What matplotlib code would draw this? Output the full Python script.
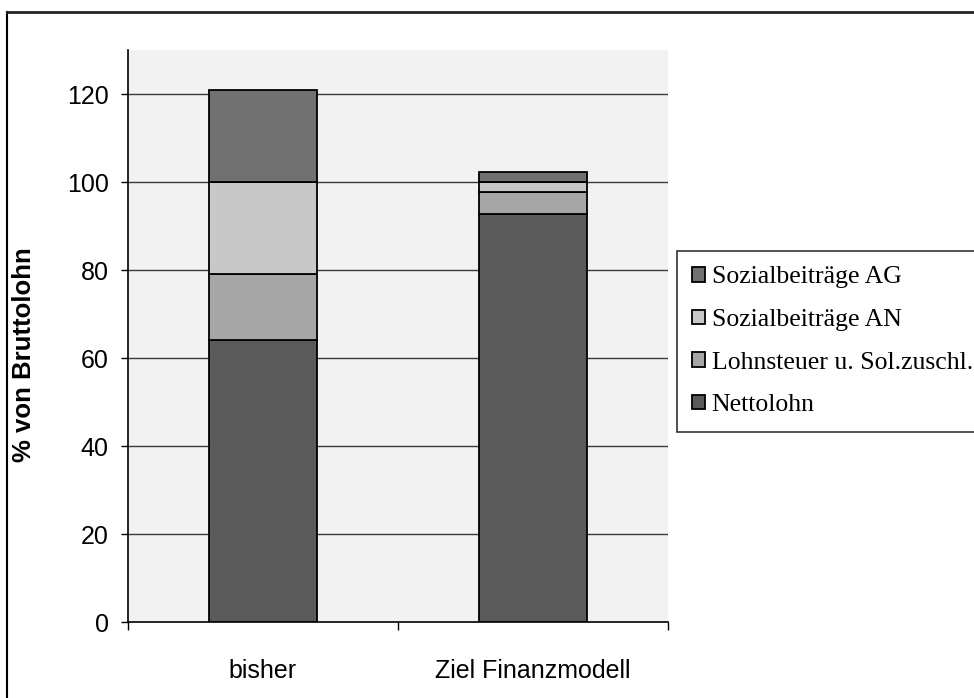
import matplotlib
matplotlib.use("Agg")
import matplotlib.pyplot as plt
from matplotlib.lines import Line2D
import numpy as np

categories = ["bisher", "Ziel Finanzmodell"]
series_names = ["Nettolohn", "Lohnsteuer u. Sol.zuschl.", "Sozialbeiträge AN", "Sozialbeiträge AG"]
nettolohn = [64.0, 92.8]
lohnsteuer = [15.0, 4.9]
sozial_an = [21.0, 2.3]
sozial_ag = [21.0, 2.2]
y_ticks = [0, 20, 40, 60, 80, 100, 120]
y_label = "% von Bruttolohn"

colors = ["#5a5a5a", "#a6a6a6", "#c8c8c8", "#717171"]
sans = "Liberation Sans"

W, H = 974, 698
fig = plt.figure(figsize=(W / 100, H / 100), dpi=100)
fig.patch.set_facecolor("white")

left, right, top, bottom = 128, 668, 50, 622
ax = fig.add_axes([left / W, 1 - bottom / H, (right - left) / W, (bottom - top) / H])
ax.set_facecolor("#f2f2f2")

x = np.arange(len(categories))
vals = [nettolohn, lohnsteuer, sozial_an, sozial_ag]
base = np.zeros(len(categories))
handles = []
for name, v, c in zip(series_names, vals, colors):
    b = ax.bar(x, v, width=0.4, bottom=base, color=c, edgecolor="black",
               linewidth=1.3, label=name, zorder=3)
    handles.append(b)
    base = base + np.array(v)

ax.set_xlim(-0.5, 1.5)
ax.set_ylim(0, 130)
ax.set_yticks(y_ticks)
ax.set_yticklabels([str(t) for t in y_ticks], fontsize=18, family=sans)
for t in y_ticks[1:]:
    ax.axhline(t, color="#3a3a3a", linewidth=1.0, zorder=1)

ax.set_xticks([-0.5, 0.5, 1.5])
ax.set_xticklabels([])
ax.set_xticks(x, minor=True)
ax.set_xticklabels(categories, minor=True, fontsize=18, family=sans)
ax.tick_params(axis="x", which="minor", length=0, pad=27)
ax.tick_params(axis="x", which="major", length=6, direction="out", width=1)
ax.tick_params(axis="y", length=5, direction="out", width=1, pad=9)

for s in ["top", "right"]:
    ax.spines[s].set_visible(False)
ax.spines["left"].set_linewidth(1.2)
ax.spines["bottom"].set_linewidth(1.2)

ax.set_ylabel(y_label, fontsize=18.5, fontweight="bold", family=sans)
ax.yaxis.set_label_coords(-(left - 36) / (right - left), (bottom - 355) / (bottom - top))

leg = fig.legend(handles[::-1], series_names[::-1], loc="upper left",
                 bbox_to_anchor=(677 / W, 1 - 251 / H),
                 prop={"family": "Liberation Serif", "size": 18.5},
                 frameon=True, fancybox=False, edgecolor="black",
                 handlelength=0.5, handleheight=0.5, handletextpad=0.25,
                 labelspacing=0.8, borderpad=0.6, borderaxespad=0)
leg.get_frame().set_linewidth(1.2)

# outer chart border (left and top only visible)
fig.add_artist(Line2D([7 / W, 7 / W], [0, 1 - 12 / H], color="black", linewidth=1.5,
                      transform=fig.transFigure))
fig.add_artist(Line2D([7 / W, 1], [1 - 12 / H, 1 - 12 / H], color="#222222", linewidth=2,
                      transform=fig.transFigure))

fig.savefig("out.png", dpi=100)
